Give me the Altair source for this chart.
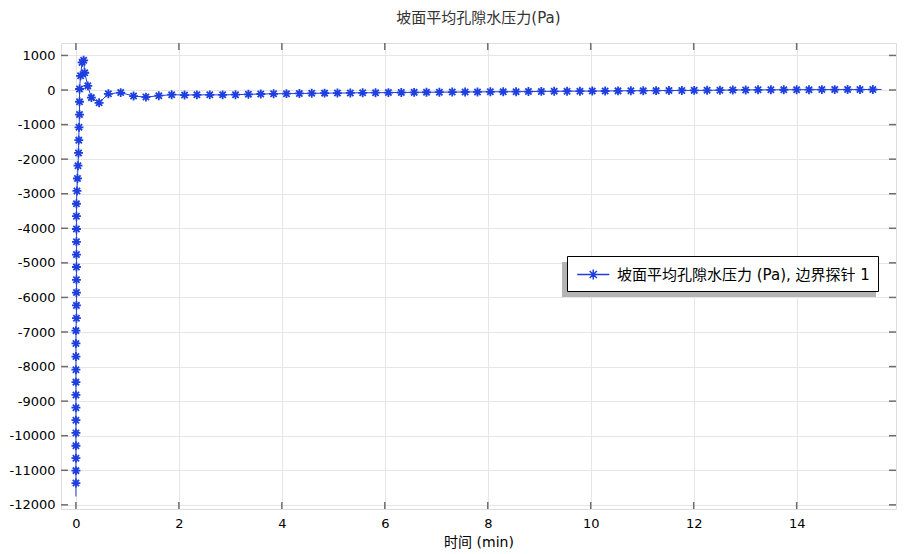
import altair as alt
import pandas as pd

# ---------------- text ----------------
title_text = "坡面平均孔隙水压力(Pa)"
x_title = "时间 (min)"
series_name = "坡面平均孔隙水压力 (Pa), 边界探针 1"

# ---------------- data ----------------
# marker positions along the curve, in path order
rise_t = [0.00, 0.00, 0.00, 0.00, 0.00, 0.00, 0.00, 0.00, 0.00, 0.00,
          0.00, 0.00, 0.00, 0.01, 0.01, 0.01, 0.01, 0.01, 0.01, 0.01,
          0.01, 0.01, 0.01, 0.02, 0.03, 0.04, 0.05, 0.055, 0.06, 0.07,
          0.07, 0.07, 0.09, 0.12, 0.15, 0.17, 0.23, 0.30, 0.45]
rise_p = [-11370, -11010, -10650, -10290, -9920, -9550, -9190, -8820, -8450, -8090,
          -7710, -7330, -6960, -6600, -6230, -5860, -5490, -5120, -4760, -4390,
          -4020, -3650, -3290, -2920, -2560, -2190, -1820, -1450, -1080, -710,
          -340, 30, 410, 800, 860, 500, 120, -220, -370]

tail_t = [0.63, 0.87, 1.12, 1.36, 1.61, 1.86, 2.11, 2.35, 2.60, 2.85,
          3.10, 3.35, 3.59, 3.84, 4.09, 4.34, 4.58, 4.83, 5.08, 5.33,
          5.57, 5.82, 6.07, 6.32, 6.57, 6.81, 7.06, 7.31, 7.56, 7.80,
          8.05, 8.30, 8.55, 8.79, 9.04, 9.29, 9.54, 9.79, 10.03, 10.28,
          10.53, 10.78, 11.02, 11.27, 11.52, 11.77, 12.01, 12.26, 12.51, 12.76,
          13.01, 13.25, 13.50, 13.75, 14.00, 14.24, 14.49, 14.74, 14.99, 15.23,
          15.48]
tail_p = [-110, -75, -175, -205, -165, -135, -145, -140, -140, -140,
          -135, -125, -115, -110, -105, -100, -95, -90, -88, -85,
          -80, -78, -75, -72, -68, -65, -62, -60, -57, -55,
          -52, -50, -48, -45, -40, -38, -35, -33, -30, -28,
          -25, -22, -20, -18, -15, -12, -10, -8, -5, 0,
          2, 5, 6, 8, 10, 10, 12, 12, 13, 14,
          15]

start_t, start_p = [0.0], [-11760]
end_t, end_p = [15.65], [15]

x_ticks = [0, 2, 4, 6, 8, 10, 12, 14]
y_ticks = [-12000, -11000, -10000, -9000, -8000, -7000, -6000, -5000, -4000,
           -3000, -2000, -1000, 0, 1000]

x_domain = [-0.29, 15.93]
y_domain = [-12120, 1360]

# ---------------- style ----------------
W, H = 835, 466
BLUE = "#1e3fe0"
FRAME = "#6e6e6e"
GRID = "#e6e6e6"
FONT = "DejaVu Sans, Noto Sans CJK SC"
STAR = "M-1,0L1,0M0,-1L0,1M-0.7,-0.7L0.7,0.7M-0.7,0.7L0.7,-0.7"
# legend glyph: short line with a star in the middle (unit = 9.5 px)
LEG_SYM = ("M-0.87,0L2.5,0M0.816,-0.53L0.816,0.53M0.29,0L1.34,0"
           "M0.44,-0.37L1.19,0.37M0.44,0.37L1.19,-0.37")

mark_t = rise_t + tail_t
mark_p = rise_p + tail_p
line_t = start_t + mark_t + end_t
line_p = start_p + mark_p + end_p

line_df = pd.DataFrame({"t": line_t, "p": line_p, "i": list(range(len(line_t)))})
mark_df = pd.DataFrame({"t": mark_t, "p": mark_p, "s": [series_name] * len(mark_t)})
xt_df = pd.DataFrame({"t": x_ticks})
yt_df = pd.DataFrame({"p": y_ticks})

xs = alt.Scale(domain=x_domain, nice=False, zero=False)
ys = alt.Scale(domain=y_domain, nice=False, zero=False)

x_axis = alt.Axis(values=x_ticks, title=x_title, grid=True, gridColor=GRID,
                  domain=False, ticks=False, labelPadding=8, labelFontSize=13,
                  labelFont=FONT, labelColor="#000", titleFont=FONT, titleFontSize=14,
                  titleFontWeight="normal", titleColor="#000", titlePadding=5,
                  labelExpr="datum.value + ''")
y_axis = alt.Axis(values=y_ticks, title=None, grid=True, gridColor=GRID,
                  domain=False, ticks=False, labelPadding=6, labelFontSize=13,
                  labelFont=FONT, labelColor="#000", labelExpr="datum.value + ''")

X = alt.X("t:Q", scale=xs, axis=x_axis)
Y = alt.Y("p:Q", scale=ys, axis=y_axis)

line = alt.Chart(line_df).mark_line(color=BLUE, strokeWidth=1).encode(
    x=X, y=Y, order=alt.Order("i:Q"),
)

points = alt.Chart(mark_df).mark_point(shape=STAR, size=80, filled=False,
                                       strokeWidth=1.8, opacity=1).encode(
    x=X, y=Y,
    color=alt.Color("s:N", scale=alt.Scale(range=[BLUE]),
                    legend=alt.Legend(orient="none", legendX=506, legendY=213,
                                      title=None, strokeColor="#000", fillColor="#fff",
                                      padding=8, cornerRadius=0,
                                      symbolType=LEG_SYM, symbolSize=361,
                                      symbolStrokeWidth=1.5, labelOffset=21,
                                      labelFontSize=15, labelFont=FONT,
                                      labelColor="#000", labelLimit=400)),
)

shadow = alt.Chart(pd.DataFrame({"a": [0]})).mark_rect(color="#b4b4b4").encode(
    x=alt.value(501), x2=alt.value(815), y=alt.value(219), y2=alt.value(254)
)

tick_style = dict(color=FRAME, strokeWidth=1.5)
xt_bottom = alt.Chart(xt_df).mark_rule(**tick_style).encode(
    x=X, y=alt.value(H), y2=alt.value(H - 7))
xt_top = alt.Chart(xt_df).mark_rule(**tick_style).encode(
    x=X, y=alt.value(0), y2=alt.value(7))
yt_left = alt.Chart(yt_df).mark_rule(**tick_style).encode(
    y=Y, x=alt.value(0), x2=alt.value(7))
yt_right = alt.Chart(yt_df).mark_rule(**tick_style).encode(
    y=Y, x=alt.value(W), x2=alt.value(W - 7))

chart = alt.layer(line, points, shadow, xt_bottom, xt_top, yt_left, yt_right).properties(
    width=W, height=H,
    title=alt.TitleParams(title_text, fontSize=15, font=FONT, color="#333",
                          fontWeight="normal", anchor="middle", offset=16),
    autosize=alt.AutoSizeParams(type="none"),
    padding={"left": 53, "top": 35, "right": 1, "bottom": 41},
).configure_view(stroke=FRAME, strokeWidth=2).configure(background="white")

chart.save("out.html", embed_options={"renderer": "svg", "actions": False})
